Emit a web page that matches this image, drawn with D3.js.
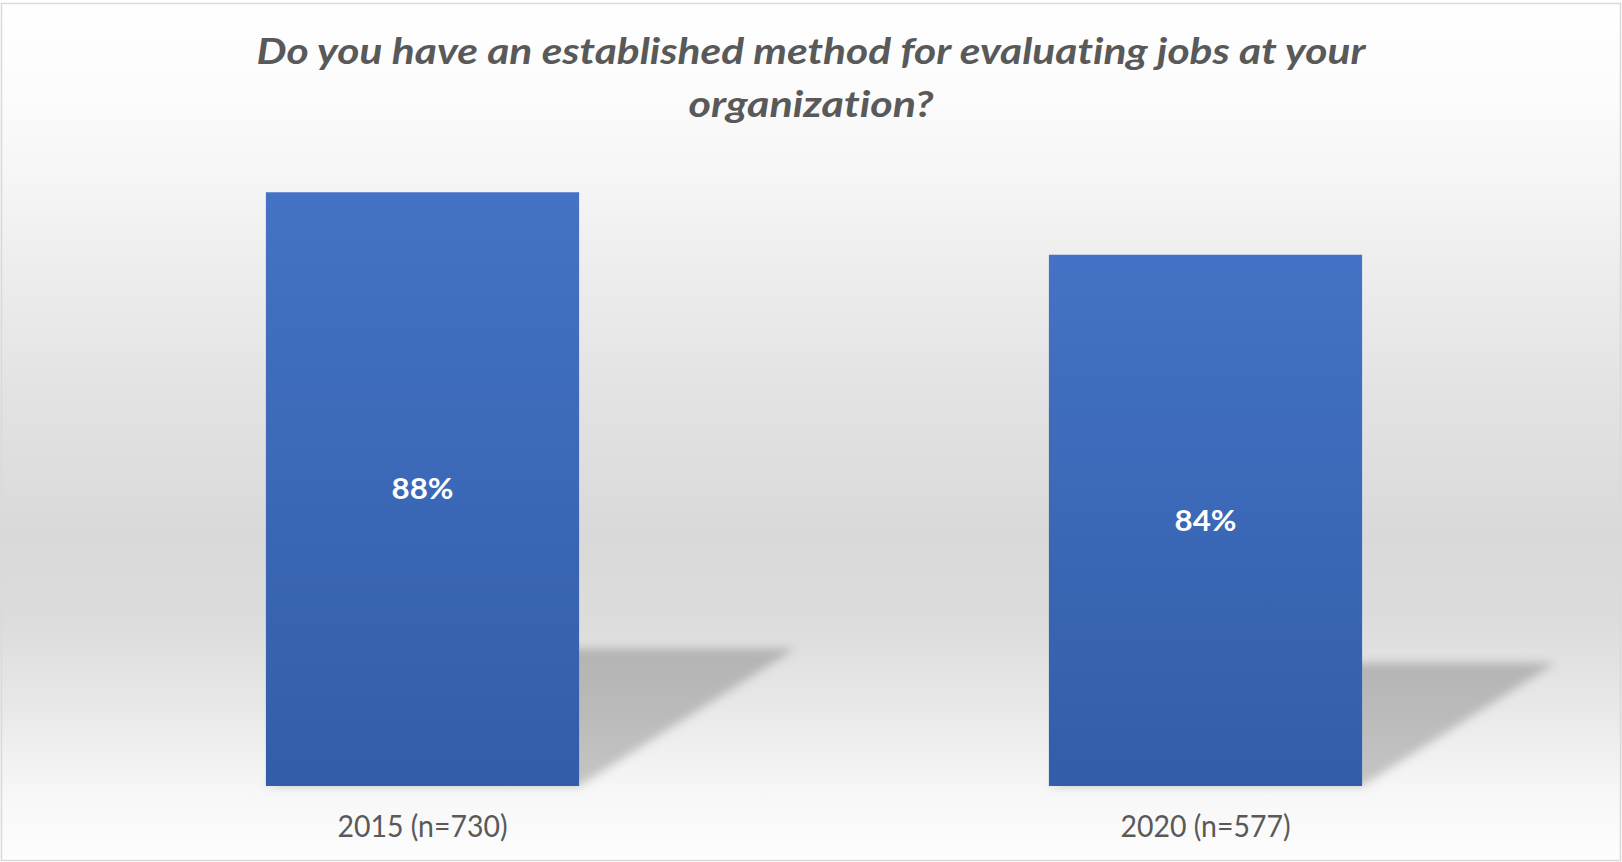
<!DOCTYPE html>
<html>
<head>
<meta charset="utf-8">
<script src="https://cdn.jsdelivr.net/npm/d3@7"></script>
<style>
  html, body { margin: 0; padding: 0; background: #ffffff; }
  svg { display: block; }
  text { font-variant-ligatures: none; font-feature-settings: "liga" 0, "clig" 0; }
</style>
</head>
<body>
<svg id="chart" width="1622" height="862"></svg>
<script>
// Survey results
const titleLines = ["Do you have an established method for evaluating jobs at your", "organization?"];
const categories = ["2015 (n=730)", "2020 (n=577)"];
const values = [0.88, 0.84];
const yDomain = [0.5, 0.9];

const W = 1622, H = 862;
const plot = { left: 31, right: 1597, top: 161, bottom: 786 };

const svg = d3.select("#chart");
const defs = svg.append("defs");

// Chart-area background: light vertical gradient
const bg = defs.append("linearGradient").attr("id", "bgGrad")
  .attr("x1", 0).attr("y1", 0).attr("x2", 0).attr("y2", 1);
[[0, "#ffffff"], [0.12, "#fbfbfb"], [0.2, "#f6f6f6"], [0.3, "#eeeeee"],
 [0.45, "#e3e3e3"], [0.62, "#d9d9d9"], [0.72, "#dcdcdc"], [0.82, "#e8e8e8"],
 [0.92, "#f7f7f7"], [1, "#fdfdfd"]].forEach(([o, c]) =>
  bg.append("stop").attr("offset", o).attr("stop-color", c));

// Bar fill gradient
const bar = defs.append("linearGradient").attr("id", "barGrad")
  .attr("x1", 0).attr("y1", 0).attr("x2", 0).attr("y2", 1);
bar.append("stop").attr("offset", 0).attr("stop-color", "#4473c5");
bar.append("stop").attr("offset", 1).attr("stop-color", "#325da8");

// Soft perspective shadow blur
defs.append("filter").attr("id", "shadowBlur")
  .attr("x", "-20%").attr("y", "-20%").attr("width", "140%").attr("height", "140%")
  .append("feGaussianBlur").attr("stdDeviation", 5);

svg.append("rect").attr("x", 0).attr("y", 0).attr("width", W).attr("height", H)
  .attr("fill", "url(#bgGrad)");
svg.append("rect").attr("x", 1.5).attr("y", 3.5).attr("width", W - 3).attr("height", H - 5)
  .attr("fill", "none").attr("stroke", "#d9d9d9").attr("stroke-width", 1.5);

const x = d3.scaleBand().domain(categories)
  .range([plot.left, plot.right]).paddingInner(0.6).paddingOuter(0.3);
const y = d3.scaleLinear().domain(yDomain).range([plot.bottom, plot.top]);

const data = categories.map((c, i) => ({ cat: c, value: values[i] }));

// Shadows cast to the right of each bar
const shadowDX = 0.365, shadowDY = 0.232;
svg.append("g").selectAll("path").data(data).join("path")
  .attr("d", d => {
    const x0 = x(d.cat), x1 = x0 + x.bandwidth();
    const b = y(yDomain[0]), h = b - y(d.value);
    return `M${x0},${b}L${x1},${b}L${x1 + shadowDX * h},${b - shadowDY * h}L${x0 + shadowDX * h},${b - shadowDY * h}Z`;
  })
  .attr("fill", "#000").attr("fill-opacity", 0.2)
  .attr("filter", "url(#shadowBlur)");

// Bars
svg.append("g").selectAll("rect").data(data).join("rect")
  .attr("x", d => x(d.cat))
  .attr("y", d => y(d.value))
  .attr("width", x.bandwidth())
  .attr("height", d => y(yDomain[0]) - y(d.value))
  .attr("fill", "url(#barGrad)");

// Value labels centred in each bar
svg.append("g").selectAll("text").data(data).join("text")
  .attr("x", d => x(d.cat) + x.bandwidth() / 2)
  .attr("y", d => (y(d.value) + y(yDomain[0])) / 2)
  .attr("dy", "0.36em")
  .attr("text-anchor", "middle")
  .attr("font-family", "Lato, 'Open Sans', sans-serif")
  .attr("font-weight", "bold")
  .attr("font-size", 28.5)
  .attr("fill", "#ffffff")
  .attr("textLength", 62).attr("lengthAdjust", "spacingAndGlyphs")
  .text(d => d3.format(".0%")(d.value));

// Category labels
svg.append("g").selectAll("text").data(data).join("text")
  .attr("x", d => x(d.cat) + x.bandwidth() / 2)
  .attr("y", 837)
  .attr("text-anchor", "middle")
  .attr("font-family", "Lato, 'Open Sans', sans-serif")
  .attr("font-size", 30)
  .attr("fill", "#595959")
  .attr("textLength", 170).attr("lengthAdjust", "spacingAndGlyphs")
  .text(d => d.cat);

// Title
const titleWidths = [1109, 245];
svg.append("g").selectAll("text").data(titleLines).join("text")
  .attr("x", W / 2)
  .attr("y", (d, i) => 64 + i * 53)
  .attr("text-anchor", "middle")
  .attr("font-family", "Lato, 'Open Sans', sans-serif")
  .attr("font-weight", "bold")
  .attr("font-style", "italic")
  .attr("font-size", 37)
  .attr("fill", "#595959")
  .attr("textLength", (d, i) => titleWidths[i]).attr("lengthAdjust", "spacingAndGlyphs")
  .text(d => d);
</script>
</body>
</html>
